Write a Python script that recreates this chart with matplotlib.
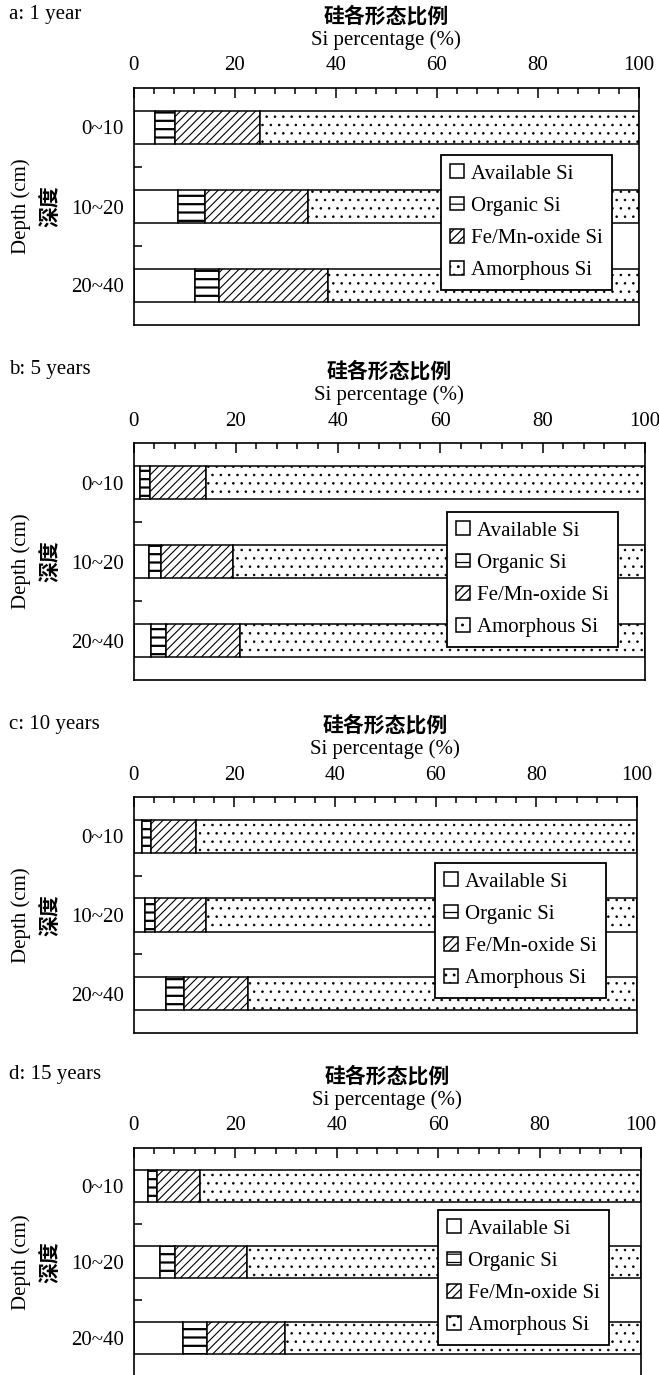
import matplotlib
matplotlib.use("Agg")
import matplotlib.pyplot as plt
from matplotlib.ticker import MultipleLocator, FixedLocator

# depth classes and fractions (%)
depths = ["0~10", "10~20", "20~40"]
fractions = ["Available Si", "Organic Si", "Fe/Mn-oxide Si", "Amorphous Si"]
panel_titles = ["a: 1 year", "b: 5 years", "c: 10 years", "d: 15 years"]

# cumulative right edge of each fraction, per depth (amorphous fills to 100)
avail_1 = [4.3, 8.7, 12.2]
organic_1 = [8.1, 14.2, 16.8]
femn_1 = [25.0, 34.5, 38.5]

avail_5 = [1.2, 2.9, 3.3]
organic_5 = [3.2, 5.4, 6.3]
femn_5 = [14.1, 19.5, 20.7]

avail_10 = [1.7, 2.3, 6.4]
organic_10 = [3.5, 4.2, 9.9]
femn_10 = [12.3, 14.4, 22.7]

avail_15 = [2.9, 5.1, 9.7]
organic_15 = [4.6, 8.2, 14.5]
femn_15 = [13.0, 22.3, 29.8]

total = [100, 100, 100]

panels = [
    (avail_1, organic_1, femn_1),
    (avail_5, organic_5, femn_5),
    (avail_10, organic_10, femn_10),
    (avail_15, organic_15, femn_15),
]

hatches = ["", "--", "////", ".."]
hatch_lw = [1.0, 1.6, 0.8, 0.6]

W, H = 659, 1375
# axes boxes in pixels: (top, bottom, right)
boxes = [(88, 325, 639), (443, 680, 645), (797, 1033, 637), (1148, 1376, 641)]
legend_xy = [(441, 155), (447, 512), (435, 863), (438, 1210)]
left_px = 133.7

plt.rcParams['font.family'] = ['Liberation Serif', 'Noto Sans CJK SC']
plt.rcParams['font.size'] = 15
plt.rcParams['hatch.linewidth'] = 0.9

fig = plt.figure(figsize=(W / 100, H / 100), dpi=100)

for i, (av, og, fe) in enumerate(panels):
    top, bottom, right = boxes[i]
    ax = fig.add_axes([left_px / W, 1 - bottom / H, (right - left_px) / W, (bottom - top) / H])
    y = list(range(len(depths)))
    edges = [av, og, fe, total]
    starts = [[0, 0, 0], av, og, fe]
    for k in range(4):
        widths = [e - s for e, s in zip(edges[k], starts[k])]
        with plt.rc_context({'hatch.linewidth': hatch_lw[k]}):
            bars = ax.barh(y, widths, left=starts[k], height=0.42, color="white",
                           edgecolor="black", linewidth=1.1, hatch=hatches[k],
                           label=fractions[k])
        for b in bars:
            if hasattr(b, "set_hatch_linewidth"):
                b.set_hatch_linewidth(hatch_lw[k])

    ax.set_xlim(0, 100)
    ax.set_ylim(2.5, -0.5)
    ax.set_yticks(y)
    ax.set_yticklabels(depths)
    ax.yaxis.set_minor_locator(FixedLocator([0.5, 1.5]))
    ax.xaxis.set_major_locator(MultipleLocator(20))
    ax.xaxis.set_minor_locator(MultipleLocator(4))
    ax.tick_params(axis="x", which="both", top=True, bottom=False, labeltop=True,
                   labelbottom=False, direction="in", pad=9, width=1.1)
    ax.tick_params(axis="x", which="major", length=7)
    ax.tick_params(axis="x", which="minor", length=4.5)
    ax.tick_params(axis="y", which="major", length=0, pad=7)
    ax.tick_params(axis="y", which="minor", length=6, direction="in", width=1.1)
    for sp in ax.spines.values():
        sp.set_linewidth(1.2)

    lx, ly = legend_xy[i]
    leg = ax.legend(loc="upper left", bbox_to_anchor=(lx / W, 1 - ly / H),
                    bbox_transform=fig.transFigure, borderaxespad=0, fancybox=False,
                    framealpha=1, edgecolor="black", handlelength=0.65, handleheight=0.65,
                    handletextpad=0.35, labelspacing=0.62, borderpad=0.45, fontsize=15)
    leg.get_frame().set_linewidth(1.3)

    cx = (left_px + right) / 2 / W
    fig.text(9 / W, 1 - (top - 73) / H, panel_titles[i], ha="left", va="center")
    fig.text(cx, 1 - (top - 72) / H, "硅各形态比例", ha="center", va="center",
             family="Noto Sans CJK SC", fontweight="bold")
    fig.text(cx, 1 - (top - 48) / H, "Si percentage (%)", ha="center", va="center")
    cy = 1 - (top + bottom) / 2 / H
    fig.text(21 / W, cy, "Depth (cm)", rotation=90, ha="center", va="center")
    fig.text(50 / W, cy, "深度", rotation=90, ha="center", va="center",
             family="Noto Sans CJK SC", fontweight="bold")

fig.savefig("out.png", dpi=100)
